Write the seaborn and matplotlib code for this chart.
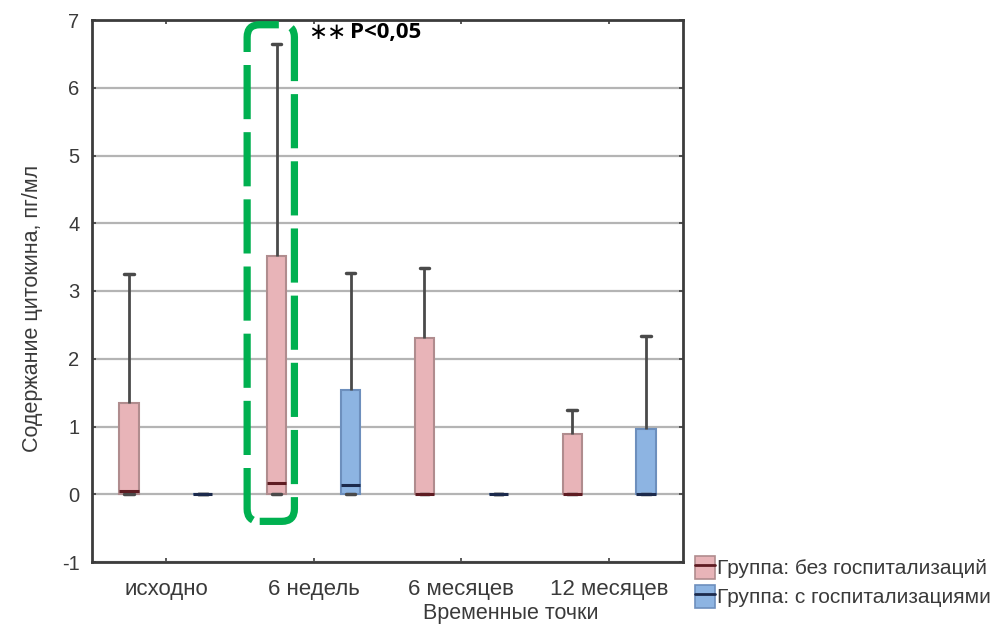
import numpy as np
import pandas as pd
import matplotlib
matplotlib.use("Agg")
import matplotlib.pyplot as plt
from matplotlib.patches import Patch, FancyBboxPatch
from matplotlib.lines import Line2D
import seaborn as sns

# Time points and groups
timepoints = ["исходно", "6 недель", "6 месяцев", "12 месяцев"]
groups = ["Группа: без госпитализаций", "Группа: с госпитализациями"]

# Box statistics per time point: whisker low, Q1, median, Q3, whisker high
no_hosp_low = [0.0, 0.0, 0.0, 0.0]
no_hosp_q1 = [0.0, 0.0, 0.0, 0.0]
no_hosp_med = [0.05, 0.16, 0.0, 0.0]
no_hosp_q3 = [1.34, 3.51, 2.31, 0.89]
no_hosp_high = [3.25, 6.65, 3.34, 1.24]

hosp_low = [0.0, 0.0, 0.0, 0.0]
hosp_q1 = [0.0, 0.0, 0.0, 0.0]
hosp_med = [0.0, 0.13, 0.0, 0.0]
hosp_q3 = [0.0, 1.54, 0.0, 0.96]
hosp_high = [0.0, 3.27, 0.0, 2.33]

y_ticks = [-1, 0, 1, 2, 3, 4, 5, 6, 7]

# Five values per box reproduce the statistics exactly (quartiles by linear
# interpolation, whiskers at min/max with whis=(0, 100)).
rows = []
for grp, stats in zip(groups, [
        (no_hosp_low, no_hosp_q1, no_hosp_med, no_hosp_q3, no_hosp_high),
        (hosp_low, hosp_q1, hosp_med, hosp_q3, hosp_high)]):
    for i, tp in enumerate(timepoints):
        for s in stats:
            rows.append({"time": tp, "group": grp, "value": s[i]})
df = pd.DataFrame(rows)

sns.set_theme(style="white")
plt.rcParams["font.family"] = ["Liberation Sans", "DejaVu Sans"]
plt.rcParams["axes.unicode_minus"] = False

TEXT = "#3a3a3a"
fills = ["#e8b4b8", "#8db4e2"]
edges = ["#b08c8e", "#6d8fbd"]
medians = ["#5e1c22", "#1c2a4c"]

fig = plt.figure(figsize=(10.01, 6.39), dpi=100)
ax = fig.add_axes([92 / 1001, 1 - 562 / 639, 591 / 1001, 542 / 639])

for grp, fc, ec, mc in zip(groups, fills, edges, medians):
    sns.boxplot(
        data=df[df["group"] == grp], x="time", y="value",
        hue="group", hue_order=groups, order=timepoints, dodge=True,
        palette={g: fc for g in groups}, saturation=1,
        width=1.0, gap=0.74, whis=(0, 100), showfliers=False,
        linecolor=ec, linewidth=1.5, legend=False, ax=ax,
        medianprops=dict(color=mc, linewidth=2.2),
        whiskerprops=dict(color="#4a4a4a", linewidth=2),
        capprops=dict(color="#4a4a4a", linewidth=2.5),
    )

ax.set_xlim(-0.5, 3.5)
ax.set_ylim(-1, 7)
ax.set_yticks(y_ticks)
ax.set_xlabel("")
ax.set_ylabel("")
ax.yaxis.grid(True, color="#b4b4b4", linewidth=1.6)
ax.set_axisbelow(True)
for sp in ax.spines.values():
    sp.set_visible(True)
    sp.set_color("#3c3c3c")
    sp.set_linewidth(2)
ax.tick_params(axis="both", direction="in", length=3, width=1.2,
               color="#3c3c3c", top=True, right=True, left=True, bottom=True)
ax.tick_params(axis="x", labelsize=16, labelcolor=TEXT, pad=12)
ax.tick_params(axis="y", labelsize=14.5, labelcolor=TEXT, pad=9)

fig.text(33 / 1001, 1 - 308 / 639, "Содержание цитокина, пг/мл", rotation=90,
         ha="center", va="center", fontsize=15.5, color=TEXT)
fig.text(511 / 1001, 1 - 614 / 639, "Временные точки",
         ha="center", va="center", fontsize=15.5, color=TEXT)

# Highlight around the 6-week group
hl = FancyBboxPatch((0.55, -0.40), 0.32, 7.33,
                    boxstyle="round,pad=0,rounding_size=0.085",
                    mutation_aspect=148 / 67.6,
                    fill=False, edgecolor="#00b050", linewidth=5.2,
                    linestyle=(0, (7.5, 1.8)), clip_on=False, zorder=10)
ax.add_patch(hl)

ax.text(0.962, 6.82, "∗∗", ha="left", va="center", fontsize=16.5,
        color="black", family="DejaVu Sans", zorder=11)
ax.text(1.245, 6.82, "P<0,05", ha="left", va="center", fontsize=16,
        fontweight="bold", color="black", family="Open Sans", zorder=11)

handles = [(Patch(facecolor=fc, edgecolor=ec, linewidth=1.2),
            Line2D([], [], color=mc, linewidth=2))
           for fc, ec, mc in zip(fills, edges, medians)]
fig.legend(handles, groups, loc="upper left",
           bbox_to_anchor=(695 / 1001, 1 - 556 / 639),
           frameon=False, fontsize=15, labelcolor=TEXT,
           handlelength=0.95, handleheight=1.3, handletextpad=0.1,
           labelspacing=0.3, borderaxespad=0, borderpad=0)

fig.savefig("out.png", dpi=100)
